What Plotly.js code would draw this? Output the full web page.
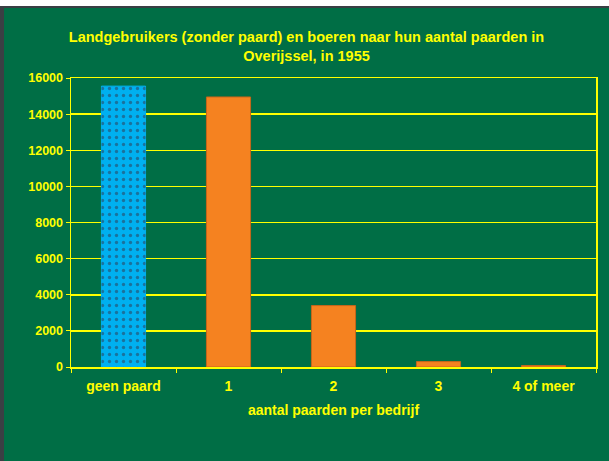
<!DOCTYPE html>
<html>
<head>
<meta charset="utf-8">
<script src="https://cdn.plot.ly/plotly-3.0.1.min.js"></script>
<style>
  html, body { margin: 0; padding: 0; background: #ffffff; }
  #frame {
    position: absolute; left: 0; top: 6px;
    width: 605px; height: 453px;
    border-top: 2px solid #3a3f44; border-left: 4px solid #3a3f44;
    background: #006e45;
  }
</style>
</head>
<body>
<div id="frame"><div id="chart"></div></div>
<script>
// ============ DATA ============
const categories = ['geen paard', '1', '2', '3', '4 of meer'];
const counts = [15550, 14950, 3400, 300, 80];
const barColors = ['#00b0f0', '#f58220', '#f58220', '#f58220', '#f58220'];
const barEdges = ['#00b0f0', '#c8651a', '#c8651a', '#c8651a', '#c8651a'];
const yTicks = [0, 2000, 4000, 6000, 8000, 10000, 12000, 14000, 16000];

const YELLOW = '#ffff00';
const FONT = 'Liberation Sans, Arial, sans-serif';

// solid bars
const bars = {
  x: categories, y: counts, type: 'bar',
  marker: { color: barColors, line: { color: barEdges, width: 1 } },
  hoverinfo: 'x+y'
};
// dotted overlay on the "geen paard" bar only
const dots = {
  x: categories.slice(0, 1), y: counts.slice(0, 1), type: 'bar',
  marker: {
    color: 'rgba(0,0,0,0)', line: { width: 0 },
    pattern: { shape: '.', fillmode: 'overlay', fgcolor: '#33334a', size: 7, solidity: 0.18 }
  },
  hoverinfo: 'skip'
};

const layout = {
  width: 605, height: 453,
  paper_bgcolor: 'rgba(0,0,0,0)',
  plot_bgcolor: 'rgba(0,0,0,0)',
  margin: { l: 67, r: 13, t: 70, b: 94 },
  showlegend: false,
  barmode: 'overlay',
  bargap: 0.58,
  title: {
    text: 'Landgebruikers (zonder paard) en boeren naar hun aantal paarden in<br>Overijssel, in 1955',
    font: { family: FONT, size: 14.5, color: YELLOW, weight: 'bold' },
    x: 0.5, xanchor: 'center', xref: 'container',
    y: 1 - 34 / 453, yanchor: 'top', yref: 'container'
  },
  xaxis: {
    type: 'category',
    showline: true, linecolor: YELLOW, linewidth: 1.5, mirror: true,
    ticks: 'outside', tickson: 'boundaries', ticklen: 4, tickcolor: YELLOW,
    ticklabelstandoff: 6,
    tickfont: { family: FONT, size: 14, color: YELLOW, weight: 'bold' },
    showgrid: false,
    title: {
      text: 'aantal paarden per bedrijf',
      font: { family: FONT, size: 14, color: YELLOW, weight: 'bold' },
      standoff: 12
    }
  },
  yaxis: {
    range: [0, 16000], tickvals: yTicks, ticktext: yTicks.map(String),
    showline: true, linecolor: YELLOW, linewidth: 1.5, mirror: true,
    ticks: 'outside', ticklen: 4, tickcolor: YELLOW,
    tickfont: { family: FONT, size: 12.5, color: YELLOW, weight: 'bold' },
    showgrid: true, gridcolor: YELLOW, gridwidth: 1.5,
    zeroline: false
  }
};

Plotly.newPlot('chart', [bars, dots], layout, { displayModeBar: false, staticPlot: true });
</script>
</body>
</html>
